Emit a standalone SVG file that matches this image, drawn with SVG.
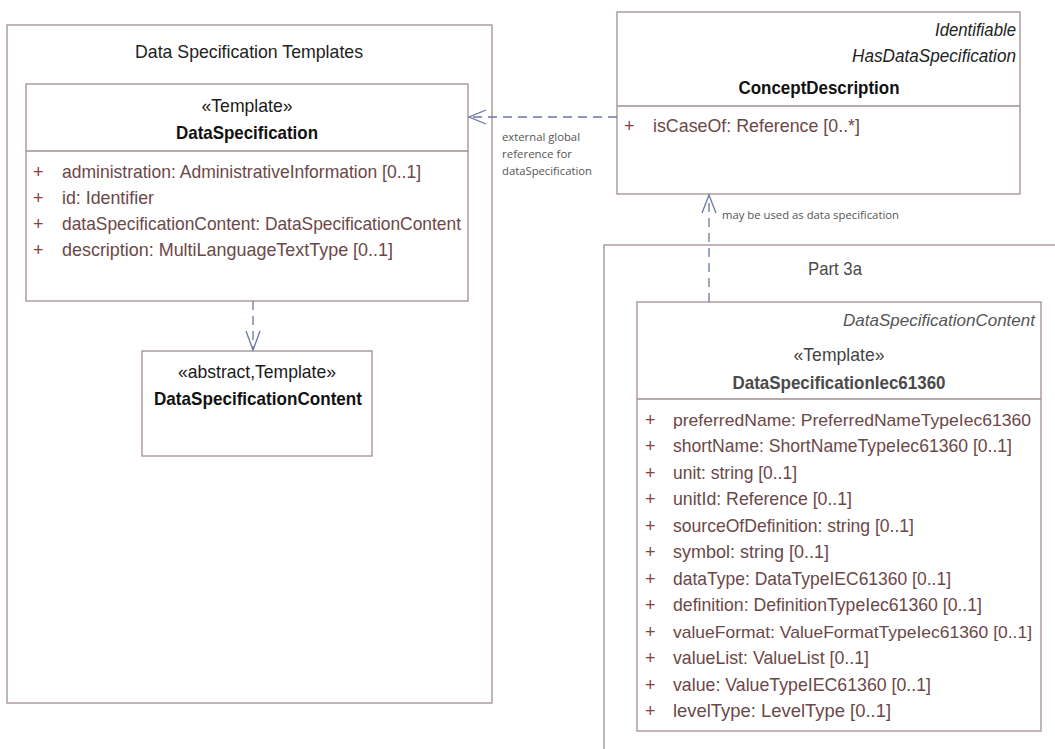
<svg xmlns="http://www.w3.org/2000/svg" width="1055" height="749" viewBox="0 0 1055 749">
<style>
text{font-family:"Liberation Sans",Arial,sans-serif;}
.box{fill:#fff;stroke:#a38e8e;stroke-width:1.3;}
.pkg{fill:none;stroke:#a38e8e;stroke-width:1.3;}
.div{stroke:#a38e8e;stroke-width:1.3;}
.attr{font-size:19px;fill:#6b4848;}
.plus{font-size:18px;fill:#8a4040;}
.stereo{font-size:19px;fill:#1a1a1a;text-anchor:middle;}
.name{font-size:19px;font-weight:bold;fill:#111;text-anchor:middle;}
.ital{font-size:19px;font-style:italic;fill:#222;text-anchor:end;}
.ptitle{font-size:19px;fill:#222;text-anchor:middle;}
.lbl{font-family:"Open Sans","Liberation Sans",sans-serif;font-size:11px;fill:#555;}
.dep{fill:none;stroke:#6a78a0;stroke-width:1.3;stroke-dasharray:9,6;}
.head{fill:none;stroke:#6a78a0;stroke-width:1.3;}
</style>

<g id="pkg-templates">
<rect class="pkg" x="7" y="25" width="485" height="678"/>
<text class="ptitle" x="249" y="58" textLength="228" lengthAdjust="spacingAndGlyphs">Data Specification Templates</text>
</g>

<g id="pkg-part3a">
<rect class="pkg" x="604" y="245" width="500" height="560"/>
<text class="ptitle" x="835" y="275" textLength="54" lengthAdjust="spacingAndGlyphs" style="fill:#4a4a4a">Part 3a</text>
</g>

<g id="DataSpecification">
<rect class="box" x="26" y="84" width="442" height="217"/>
<line class="div" x1="26" y1="151" x2="468" y2="151"/>
<text class="stereo" x="247" y="112" textLength="91" lengthAdjust="spacingAndGlyphs">«Template»</text>
<text class="name" x="247" y="139" textLength="142" lengthAdjust="spacingAndGlyphs">DataSpecification</text>
<text class="plus" x="33" y="178">+</text>
<text class="attr" x="62" y="178" textLength="359" lengthAdjust="spacingAndGlyphs">administration: AdministrativeInformation [0..1]</text>
<text class="plus" x="33" y="204">+</text>
<text class="attr" x="62" y="204" textLength="92" lengthAdjust="spacingAndGlyphs">id: Identifier</text>
<text class="plus" x="33" y="230">+</text>
<text class="attr" x="62" y="230" textLength="399" lengthAdjust="spacingAndGlyphs">dataSpecificationContent: DataSpecificationContent</text>
<text class="plus" x="33" y="256">+</text>
<text class="attr" x="62" y="256" textLength="331" lengthAdjust="spacingAndGlyphs">description: MultiLanguageTextType [0..1]</text>
</g>

<g id="DataSpecificationContent">
<rect class="box" x="142" y="351" width="230" height="105"/>
<text class="stereo" x="257" y="378" textLength="158" lengthAdjust="spacingAndGlyphs">«abstract,Template»</text>
<text class="name" x="258" y="405" textLength="208" lengthAdjust="spacingAndGlyphs">DataSpecificationContent</text>
</g>

<g id="ConceptDescription">
<rect class="box" x="617" y="12" width="403" height="182"/>
<line class="div" x1="617" y1="106" x2="1020" y2="106"/>
<text class="ital" x="1016" y="36" textLength="81" lengthAdjust="spacingAndGlyphs">Identifiable</text>
<text class="ital" x="1016" y="62" textLength="164" lengthAdjust="spacingAndGlyphs">HasDataSpecification</text>
<text class="name" x="819" y="94" textLength="161" lengthAdjust="spacingAndGlyphs">ConceptDescription</text>
<text class="plus" x="624" y="132">+</text>
<text class="attr" x="653" y="132" textLength="207" lengthAdjust="spacingAndGlyphs">isCaseOf: Reference [0..*]</text>
</g>

<g id="DataSpecificationIec61360">
<rect class="box" x="637" y="302" width="404" height="429"/>
<line class="div" x1="637" y1="399" x2="1041" y2="399"/>
<text class="ital" x="1035" y="326" textLength="192" lengthAdjust="spacingAndGlyphs" style="fill:#555;font-size:17px">DataSpecificationContent</text>
<text class="stereo" x="839" y="361" textLength="91" lengthAdjust="spacingAndGlyphs" style="fill:#444">«Template»</text>
<text class="name" x="839" y="389" textLength="213" lengthAdjust="spacingAndGlyphs" style="fill:#4a4a4a">DataSpecificationIec61360</text>
<text class="plus" x="645" y="426">+</text>
<text class="attr" x="673" y="426" textLength="358" lengthAdjust="spacingAndGlyphs" style="font-size:17px">preferredName: PreferredNameTypeIec61360</text>
<text class="plus" x="645" y="452">+</text>
<text class="attr" x="673" y="452" textLength="339" lengthAdjust="spacingAndGlyphs">shortName: ShortNameTypeIec61360 [0..1]</text>
<text class="plus" x="645" y="479">+</text>
<text class="attr" x="673" y="479" textLength="124" lengthAdjust="spacingAndGlyphs">unit: string [0..1]</text>
<text class="plus" x="645" y="505">+</text>
<text class="attr" x="673" y="505" textLength="179" lengthAdjust="spacingAndGlyphs">unitId: Reference [0..1]</text>
<text class="plus" x="645" y="532">+</text>
<text class="attr" x="673" y="532" textLength="241" lengthAdjust="spacingAndGlyphs">sourceOfDefinition: string [0..1]</text>
<text class="plus" x="645" y="558">+</text>
<text class="attr" x="673" y="558" textLength="156" lengthAdjust="spacingAndGlyphs">symbol: string [0..1]</text>
<text class="plus" x="645" y="585">+</text>
<text class="attr" x="673" y="585" textLength="278" lengthAdjust="spacingAndGlyphs">dataType: DataTypeIEC61360 [0..1]</text>
<text class="plus" x="645" y="611">+</text>
<text class="attr" x="673" y="611" textLength="309" lengthAdjust="spacingAndGlyphs">definition: DefinitionTypeIec61360 [0..1]</text>
<text class="plus" x="645" y="638">+</text>
<text class="attr" x="673" y="638" textLength="359" lengthAdjust="spacingAndGlyphs" style="font-size:17px">valueFormat: ValueFormatTypeIec61360 [0..1]</text>
<text class="plus" x="645" y="664">+</text>
<text class="attr" x="673" y="664" textLength="196" lengthAdjust="spacingAndGlyphs">valueList: ValueList [0..1]</text>
<text class="plus" x="645" y="691">+</text>
<text class="attr" x="673" y="691" textLength="258" lengthAdjust="spacingAndGlyphs">value: ValueTypeIEC61360 [0..1]</text>
<text class="plus" x="645" y="717">+</text>
<text class="attr" x="673" y="717" textLength="218" lengthAdjust="spacingAndGlyphs">levelType: LevelType [0..1]</text>
</g>

<g id="connectors">
<line class="dep" x1="617" y1="117" x2="469" y2="117"/>
<polyline class="head" points="486,110 469,117 486,124"/>
<text class="lbl" x="502" y="141" textLength="78" lengthAdjust="spacingAndGlyphs">external global</text>
<text class="lbl" x="502" y="158" textLength="70" lengthAdjust="spacingAndGlyphs">reference for</text>
<text class="lbl" x="502" y="175" textLength="90" lengthAdjust="spacingAndGlyphs">dataSpecification</text>

<line class="dep" x1="709" y1="302" x2="709" y2="195"/>
<polyline class="head" points="702,213 709,195 716,213"/>
<text class="lbl" x="722" y="219" textLength="177" lengthAdjust="spacingAndGlyphs">may be used as data specification</text>

<line class="dep" x1="253" y1="301" x2="253" y2="350"/>
<polyline class="head" points="246,331 253,350 260,331"/>
</g>
</svg>
